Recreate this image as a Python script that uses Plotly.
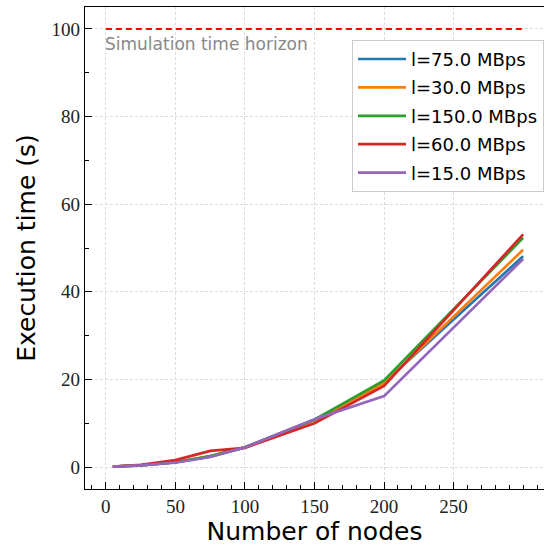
import plotly.graph_objects as go

# Number of nodes in each run
nodes = [5, 25, 50, 75, 100, 150, 200, 300]

# Execution time (s) per link bandwidth
labels = ["l=75.0 MBps", "l=30.0 MBps", "l=150.0 MBps", "l=60.0 MBps", "l=15.0 MBps"]
time_75 = [0.1, 0.4, 1.1, 2.4, 4.5, 10.8, 19.3, 48.1]
time_30 = [0.1, 0.4, 1.1, 2.5, 4.5, 10.7, 19.1, 49.6]
time_150 = [0.1, 0.4, 1.1, 2.5, 4.5, 10.8, 19.8, 52.3]
time_60 = [0.1, 0.5, 1.6, 3.7, 4.4, 10.0, 18.5, 53.1]
time_15 = [0.1, 0.4, 1.0, 2.3, 4.5, 10.9, 16.2, 47.5]
series = [time_75, time_30, time_150, time_60, time_15]
colors = ["#1f77b4", "#ff7f0e", "#2ca02c", "#d62728", "#9467bd"]

horizon = 100
horizon_span = [0, 300]

fig = go.Figure()

fig.add_trace(go.Scatter(
    x=horizon_span, y=[horizon, horizon], mode="lines",
    line=dict(color="#ff0000", width=2, dash="6px,4px"),
    showlegend=False, hoverinfo="skip",
))

for i, (lab, ys, c) in enumerate(zip(labels, series, colors)):
    fig.add_trace(go.Scatter(
        x=nodes, y=ys, mode="lines", name=lab, legendgroup=f"g{i}",
        line=dict(color=c, width=2.7),
    ))

fig.add_annotation(
    x=0, y=horizon, xref="x", yref="y", yshift=-15, xshift=-3,
    text="Simulation time horizon", showarrow=False,
    xanchor="left", yanchor="middle",
    font=dict(family="DejaVu Sans", size=17, color="#888888"),
)

tick_font = dict(family="Liberation Serif", size=19, color="#222222")
axis_common = dict(
    showline=True, linecolor="black", linewidth=1.3, mirror=True,
    ticks="inside", ticklen=7, tickwidth=1.2, tickcolor="black",
    showgrid=True, gridcolor="#dcdcdc", gridwidth=0.8, griddash="3px,2px",
    zeroline=False, tickfont=tick_font,
)

fig.update_xaxes(
    range=[-15, 315], tickvals=[0, 50, 100, 150, 200, 250],
    minor=dict(dtick=10, tick0=0, ticks="inside", ticklen=4, tickcolor="black", showgrid=False),
    title=dict(text="Number of nodes", font=dict(family="DejaVu Sans", size=25, color="black"), standoff=4),
    **axis_common,
)
fig.update_yaxes(
    range=[-5, 105], tickvals=[0, 20, 40, 60, 80, 100],
    minor=dict(dtick=10, tick0=0, ticks="inside", ticklen=4, tickcolor="black", showgrid=False),
    title=dict(text="Execution time (s)", font=dict(family="DejaVu Sans", size=25, color="black"), standoff=8),
    **axis_common,
)

fig.update_layout(
    width=544, height=546,
    margin=dict(l=85, r=0, t=7, b=57),
    plot_bgcolor="white", paper_bgcolor="white",
    legend=dict(
        x=0.582, y=0.932, xanchor="left", yanchor="top",
        bgcolor="rgba(255,255,255,0.9)", bordercolor="#cccccc", borderwidth=1,
        font=dict(family="DejaVu Sans", size=18, color="black"),
        tracegroupgap=2, itemwidth=48,
    ),
)

fig.write_html("out.html")
